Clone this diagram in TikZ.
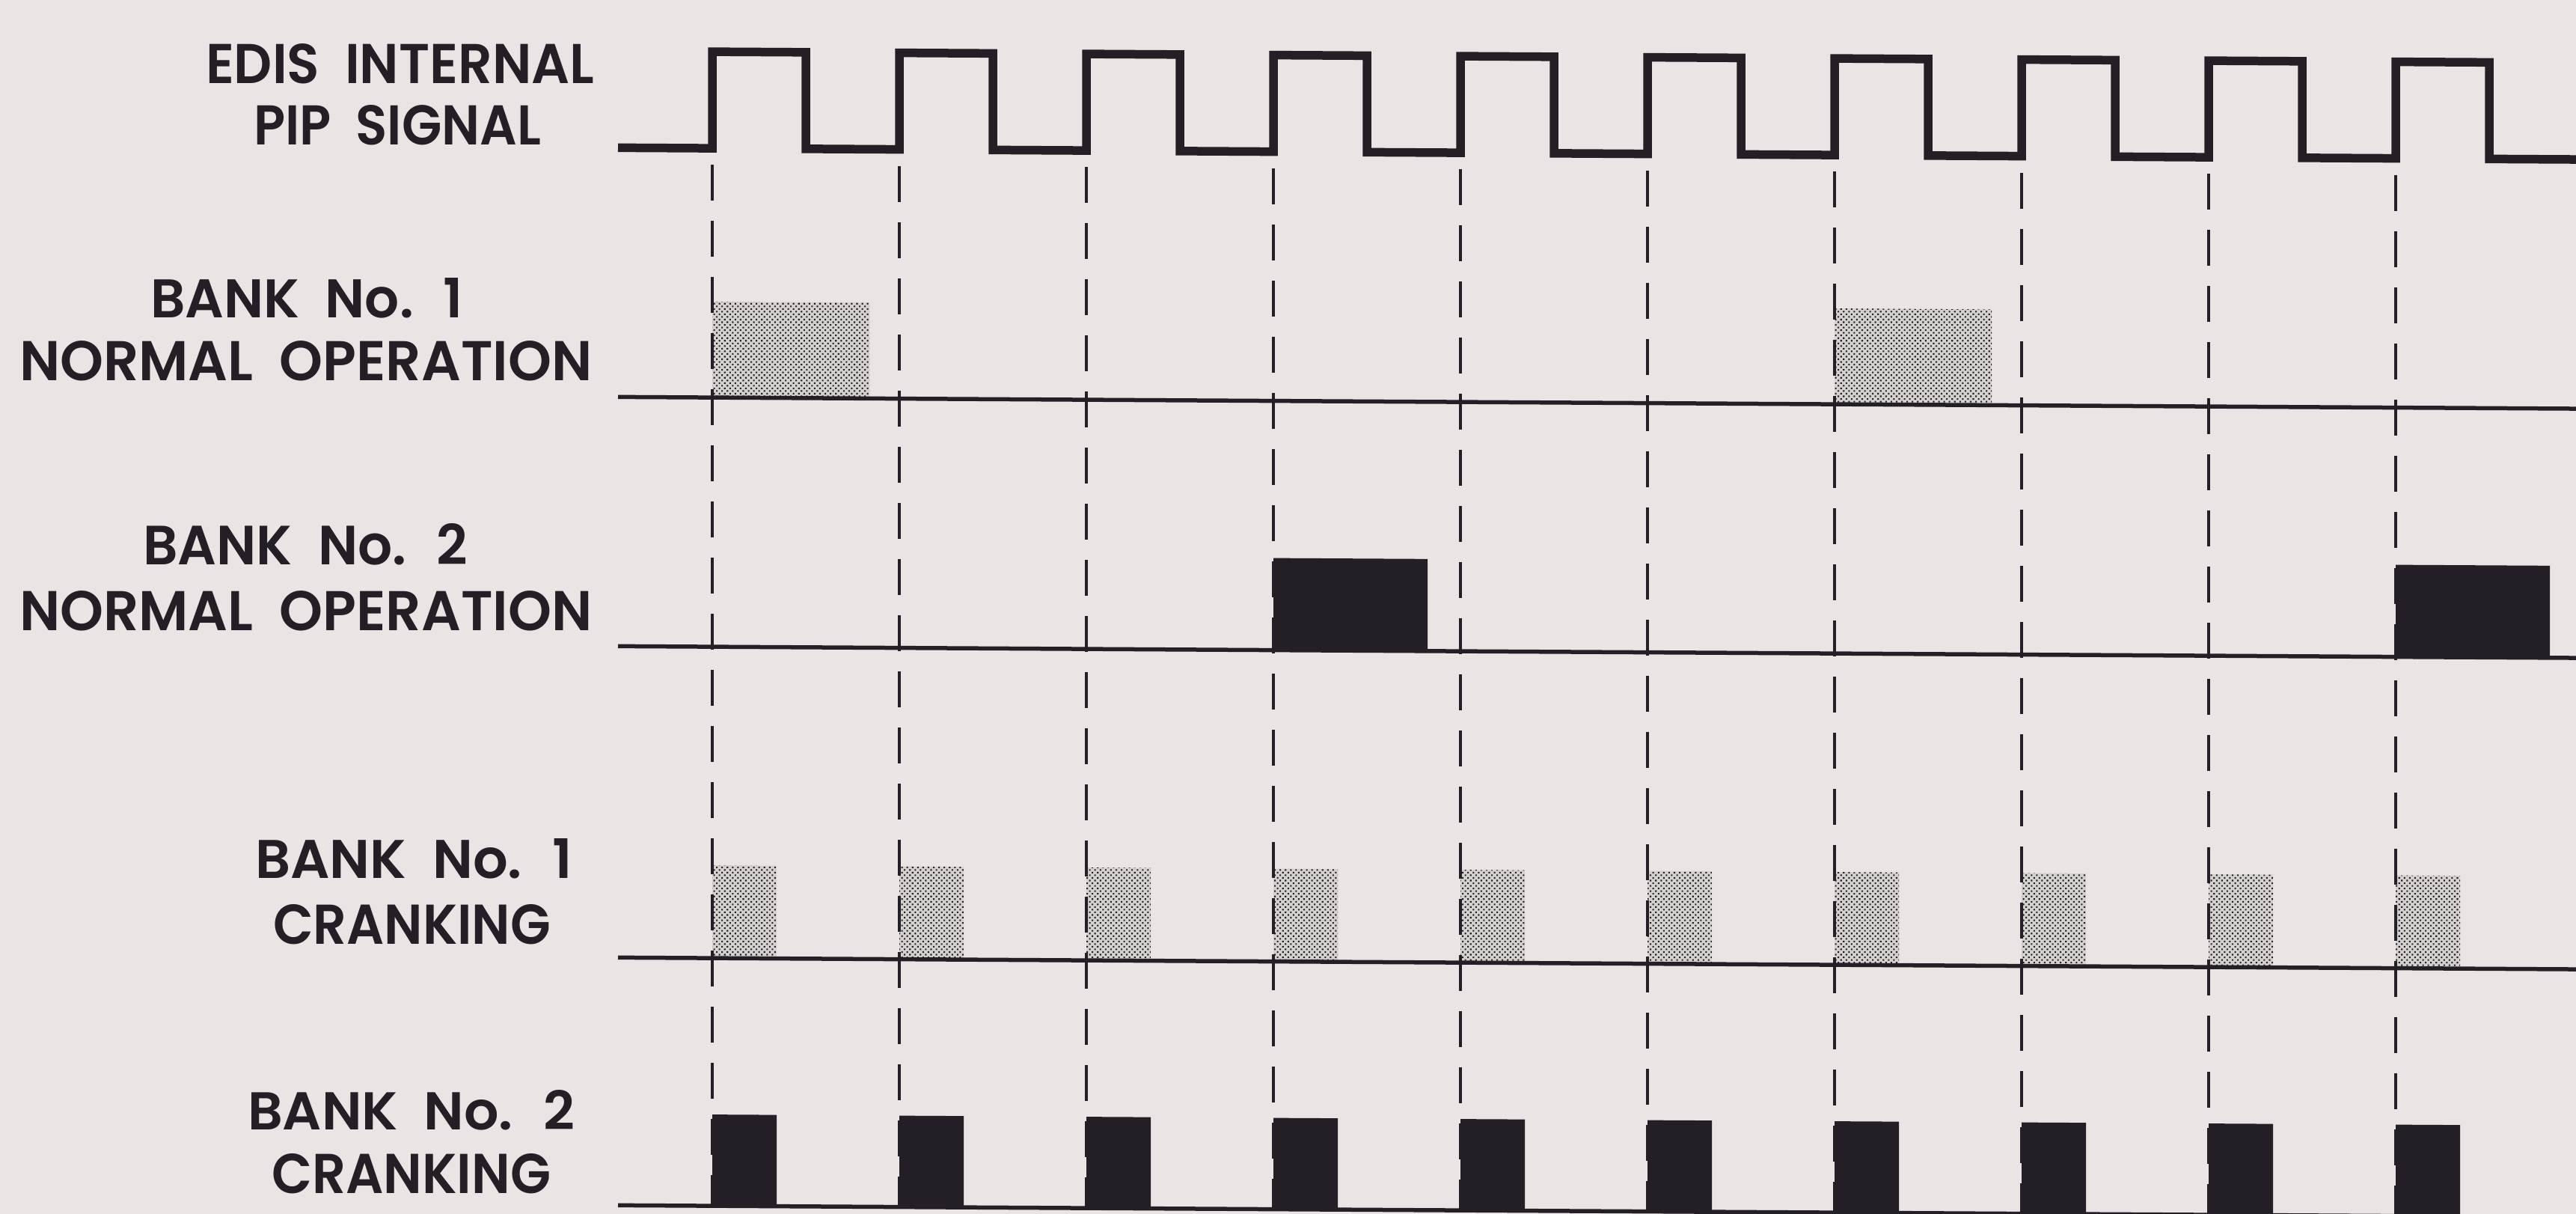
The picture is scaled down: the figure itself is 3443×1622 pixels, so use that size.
\documentclass[tikz,border=0pt]{standalone}
\usepackage{graphicx}
\usepackage{fontspec}
\newfontfamily\lab{Poppins SemiBold}
\usetikzlibrary{patterns.meta}
\definecolor{paper}{RGB}{234,229,228}
\definecolor{ink}{RGB}{36,30,38}
\definecolor{dotbase}{RGB}{212,209,206}
\newcommand{\fitlab}[3]{\resizebox{#1pt}{#2pt}{\lab #3}}
\begin{document}
\begin{tikzpicture}[x=1pt,y=-1pt,
  lbl/.style={anchor=base west, inner sep=0pt, outer sep=0pt, text=ink},
  pipline/.style={draw=ink, line width=11.5pt, line join=miter, line cap=butt},
  baseln/.style={draw=ink, line width=5.5pt},
  dashln/.style={draw=ink, line width=4.5pt, dash pattern=on 48pt off 27pt},
  dotfill/.style={pattern={Dots[distance=5pt, angle=45, radius=1.45pt]}, pattern color=ink},
  blackbox/.style={fill=ink}]
\fill[paper] (0,0) rectangle (3443,1622);
\useasboundingbox (0,0) rectangle (3443,1622);

% labels
\node[lbl] (t1) at (275,111) {\fitlab{519}{53}{EDIS~ INTERNAL}};
\node[lbl] (t2) at (339,193) {\fitlab{384}{53}{PIP~ SIGNAL}};
\node[lbl] (t3) at (201,424) {\fitlab{418}{53}{BANK~ No.~ 1}};
\node[lbl] (t4) at (26,508) {\fitlab{765}{53}{NORMAL~ OPERATION}};
\node[lbl] (t5) at (191,754) {\fitlab{434}{55}{BANK~ No.~ 2}};
\node[lbl] (t6) at (26,842) {\fitlab{765}{53}{NORMAL~ OPERATION}};
\node[lbl] (t7) at (341,1173) {\fitlab{424}{53}{BANK~ No.~ 1}};
\node[lbl] (t8) at (365,1261) {\fitlab{371}{53}{CRANKING}};
\node[lbl] (t9) at (331,1509) {\fitlab{437}{53}{BANK~ No.~ 2}};
\node[lbl] (t10) at (363,1594) {\fitlab{373}{53}{CRANKING}};

\begin{scope}[yshift=12.6pt, yslant=-0.006]
  % bank 1 normal operation boxes
  \foreach \k in {0,6} {
    \fill[dotbase] ({952+250*\k},410) rectangle ({1162+250*\k},538);
    \fill[dotfill] ({952+250*\k},410) rectangle ({1162+250*\k},538);
  }
  % bank 2 normal operation boxes
  \foreach \k in {3,9} {
    \fill[blackbox] ({952+250*\k},748) rectangle ({1158+250*\k},871);
  }
  % cranking boxes
  \foreach \k in {0,...,9} {
    \fill[dotbase] ({952+250*\k},1163) rectangle ({1038+250*\k},1287);
    \fill[dotfill] ({952+250*\k},1163) rectangle ({1038+250*\k},1287);
    \fill[blackbox] ({952+250*\k},1496) rectangle ({1038+250*\k},1620);
  }
  % dashed timing lines
  \foreach \k in {0,...,9} {
    \draw[dashln] ({952+250*\k},227) -- ({952+250*\k},1620);
  }
  % baselines
  \draw[baseln] (826,538) -- (3443,538);
  \draw[baseln] (826,871) -- (3443,871);
  \draw[baseln] (826,1287) -- (3443,1287);
  \draw[baseln] (826,1618) -- (3443,1618);
  % PIP signal
  \draw[pipline] (826,205)
    \foreach \k in {0,...,9} {
      -- ({952+250*\k},205) -- ({952+250*\k},76) -- ({1077+250*\k},76) -- ({1077+250*\k},205)
    } -- (3443,205);
\end{scope}
\end{tikzpicture}
\end{document}
